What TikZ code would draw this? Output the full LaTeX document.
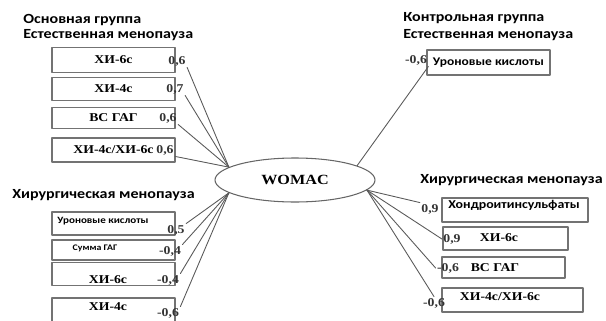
\documentclass[tikz,border=0pt]{standalone}
\usepackage{fontspec}
\setmainfont[FakeStretch=1.15]{Liberation Serif}
\newfontfamily\hdrfont[FakeStretch=1.15]{Carlito}
\usetikzlibrary{shapes.geometric}

\begin{document}
\begin{tikzpicture}[
    line width=0.6pt,
    line cap=round,
    line join=round,
    hdr/.style={anchor=west, inner sep=0pt, font=\hdrfont\bfseries\fontsize{11.9}{13}\selectfont},
    box/.style={draw=black!55, line width=0.9pt, minimum width=3.69cm, minimum height=0.7cm, inner sep=0pt, font=\bfseries\fontsize{10.2}{12}\selectfont},
    txt/.style={inner sep=0pt, font=\bfseries\fontsize{10.2}{12}\selectfont},
    tag/.style={inner sep=0pt, font=\hdrfont\bfseries\fontsize{#1}{#1}\selectfont},
    num/.style={inner sep=1pt, text=black!80, font=\bfseries\fontsize{10.2}{12}\selectfont},
    link/.style={draw=black!65, line width=0.75pt}
]
\useasboundingbox (0,0) rectangle (18.18,9.6);

% 1. WOMAC
\node[ellipse, draw=black!60, line width=0.9pt, minimum width=4.8cm, minimum height=1.32cm, inner sep=0pt, font=\bfseries\fontsize{12}{14}\selectfont] (womac) at (8.85,4.2) {WOMAC};
\coordinate (wul) at (womac.169);
\coordinate (wll) at (womac.191);
\coordinate (wur) at (womac.13);
\coordinate (wlr) at (womac.352);

% 2. Headers
\node[hdr] (h1) at (0.69,9.0) {Основная группа};
\node[hdr] (h2) at (0.69,8.55) {Естественная менопауза};
\node[hdr] (h3) at (0.36,3.75) {Хирургическая менопауза};
\node[hdr] (h4) at (12.09,9.06) {Контрольная группа};
\node[hdr] (h5) at (12.09,8.55) {Естественная менопауза};
\node[hdr] (h6) at (12.6,4.2) {Хирургическая менопауза};

% 3. Main group, natural menopause
\node[box, minimum height=0.75cm] (a1) at (3.405,7.8) {ХИ-6с};
\node[box, minimum height=0.69cm] (a2) at (3.405,6.93) {ХИ-4с};
\node[box, minimum height=0.63cm] (a3) at (3.405,6.06) {ВС ГАГ};
\node[box, minimum height=0.72cm] (a4) at (3.405,5.1) {ХИ-4с/ХИ-6с};
\node[num] (na1) at (5.31,7.77) {0,6};
\node[num] (na2) at (5.25,6.93) {0,7};
\node[num] (na3) at (5.04,6.06) {0,6};
\node[num] (na4) at (4.95,5.1) {0,6};

% 4. Main group, surgical menopause
\node[box, minimum height=0.69cm] (b1) at (3.405,2.895) {};
\node[tag=8.2] (b1t) at (3.09,2.97) {Уроновые кислоты};
\node[box, minimum height=0.6cm] (b2) at (3.405,2.1) {};
\node[tag=7.3] (b2t) at (2.85,2.16) {Сумма ГАГ};
\node[box, minimum height=0.69cm] (b3) at (3.405,1.38) {};
\node[txt] (b3t) at (3.24,1.2) {ХИ-6с};
\node[box, minimum height=0.72cm] (b4) at (3.405,0.3) {};
\node[txt] (b4t) at (3.24,0.39) {ХИ-4с};
\node[num] (nb1) at (5.28,2.7) {0,5};
\node[num] (nb2) at (5.1,2.07) {-0,4};
\node[num] (nb3) at (5.04,1.2) {-0,4};
\node[num] (nb4) at (5.04,0.21) {-0,6};

% 5. Control group, natural menopause
\node[box, minimum height=0.75cm, font=\hdrfont\bfseries\fontsize{10}{12}\selectfont] (c1) at (14.655,7.725) {Уроновые кислоты};
\node[num] (nc1) at (12.48,7.8) {-0,6};

% 6. Control group, surgical menopause
\node[box, minimum width=4.38cm, minimum height=0.72cm] (d1) at (15.45,3.3) {};
\node[tag=10.3] (d1t) at (15.42,3.45) {Хондроитинсульфаты};
\node[box, minimum width=3.75cm, minimum height=0.69cm] (d2) at (15.165,2.445) {};
\node[txt] (d2t) at (14.97,2.46) {ХИ-6с};
\node[box, minimum height=0.63cm] (d3) at (15.105,1.575) {};
\node[txt] (d3t) at (14.85,1.56) {ВС ГАГ};
\node[box, minimum width=4.23cm, minimum height=0.72cm] (d4) at (15.375,0.6) {};
\node[txt] (d4t) at (15.0,0.69) {ХИ-4с/ХИ-6с};
\node[num] (nd1) at (12.9,3.33) {0,9};
\node[num] (nd2) at (13.56,2.43) {0,9};
\node[num] (nd3) at (13.44,1.56) {-0,6};
\node[num] (nd4) at (13.02,0.51) {-0,6};

% 7. Links
\draw[link] (na1.south east) -- (wul);
\draw[link] (na2.south east) -- (wul);
\draw[link] (na3.south east) -- (wul);
\draw[link] (na4.south east) -- (wul);
\draw[link] (nb1.north east) -- (wll);
\draw[link] (nb2.north east) -- (wll);
\draw[link] (nb3.north east) -- (wll);
\draw[link] (nb4.north east) -- (wll);
\draw[link] (nc1.south east) -- (wur);
\draw[link] (nd1.north west) -- (wlr);
\draw[link] (nd2.west) -- (wlr);
\draw[link] (nd3.west) -- (wlr);
\draw[link] (nd4.north) -- (wlr);
\end{tikzpicture}
\end{document}
